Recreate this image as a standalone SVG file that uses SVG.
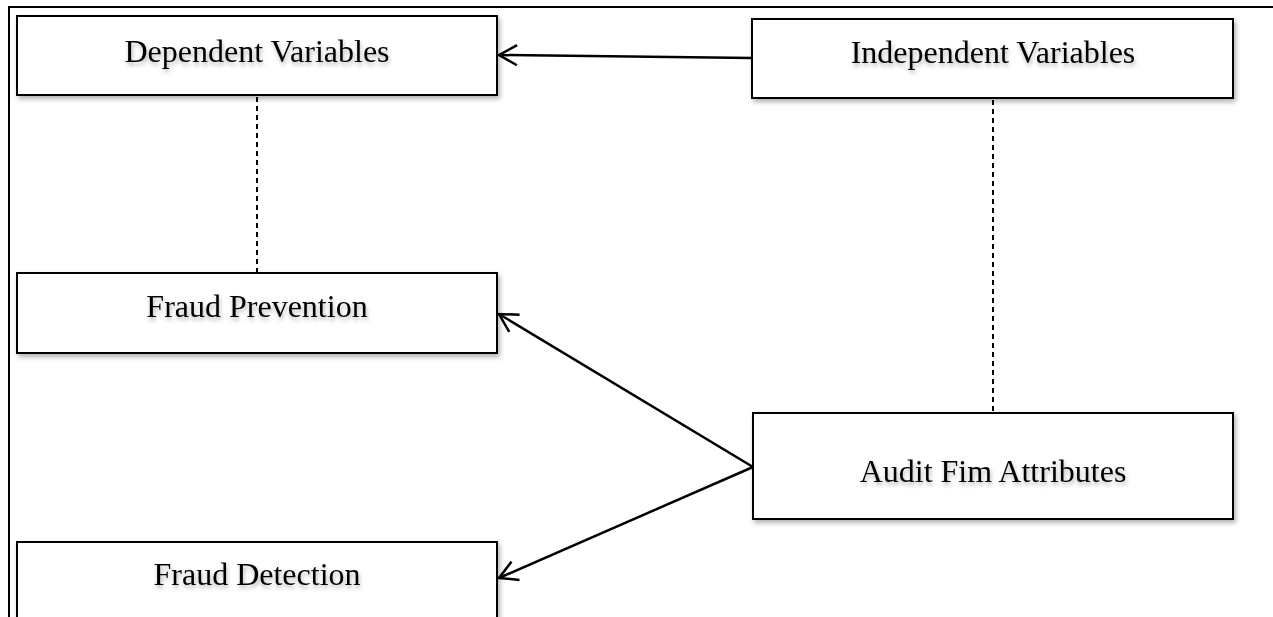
<svg xmlns="http://www.w3.org/2000/svg" width="1273" height="617" viewBox="0 0 1273 617">
<style>
.box{fill:#fff;stroke:#000;stroke-width:2;filter:url(#sh)}
.lbl{font-family:"Liberation Serif","Times New Roman",serif;font-size:32px;fill:#000;text-anchor:middle;filter:url(#tsh)}
.con{stroke:#000;stroke-width:2.5;fill:none}
.dash{stroke:#000;stroke-width:2;stroke-dasharray:5 4;fill:none}
.frame{stroke:#000;stroke-width:2;fill:none}
</style>
<defs>
<filter id="sh" x="-5%" y="-10%" width="115%" height="130%">
<feDropShadow dx="2" dy="3" stdDeviation="2.5" flood-color="#000" flood-opacity="0.3"/>
</filter>
<filter id="tsh" x="-5%" y="-20%" width="115%" height="150%">
<feDropShadow dx="1" dy="3" stdDeviation="2" flood-color="#000" flood-opacity="0.3"/>
</filter>
<marker id="arr" viewBox="-22 -12 26 24" refX="0" refY="0" markerWidth="26" markerHeight="24" markerUnits="userSpaceOnUse" orient="auto">
<path d="M-18,-10 L0,0 L-18,10" fill="none" stroke="#000" stroke-width="2.5"/>
</marker>
</defs>
<rect width="1273" height="617" fill="#fff"/>
<g id="frame">
<path class="frame" d="M9,617 L9,7 L1273,7"/>
</g>
<g id="connectors">
<line class="con" x1="752" y1="58" x2="499" y2="55" marker-end="url(#arr)"/>
<line class="con" x1="753" y1="467" x2="499" y2="314" marker-end="url(#arr)"/>
<line class="con" x1="753" y1="467" x2="499" y2="578" marker-end="url(#arr)"/>
<line class="dash" x1="257" y1="97" x2="257" y2="273"/>
<line class="dash" x1="993" y1="100" x2="993" y2="413"/>
</g>
<g id="dependent">
<rect class="box" x="17" y="16" width="480" height="79"/>
<text class="lbl" x="257" y="62">Dependent Variables</text>
</g>
<g id="independent">
<rect class="box" x="752" y="19" width="481" height="79"/>
<text class="lbl" x="993" y="63">Independent Variables</text>
</g>
<g id="prevention">
<rect class="box" x="17" y="273" width="480" height="80"/>
<text class="lbl" x="257" y="317">Fraud Prevention</text>
</g>
<g id="detection">
<rect class="box" x="17" y="542" width="480" height="100"/>
<text class="lbl" x="257" y="585">Fraud Detection</text>
</g>
<g id="audit">
<rect class="box" x="753" y="413" width="480" height="106"/>
<text class="lbl" x="993" y="482">Audit Fim Attributes</text>
</g>
</svg>
